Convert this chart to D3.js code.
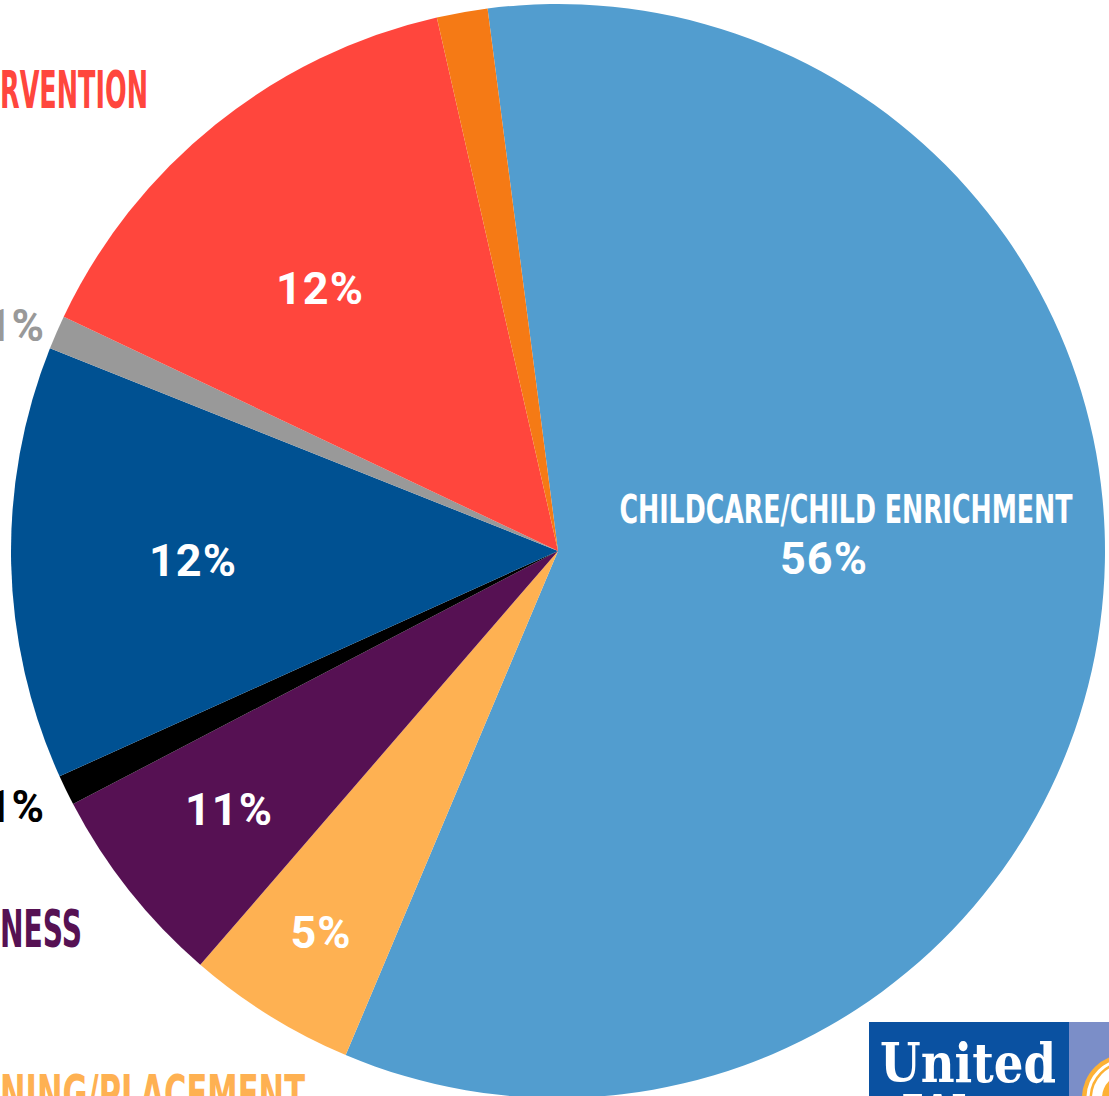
<!DOCTYPE html>
<html>
<head>
<meta charset="utf-8">
<script src="https://cdn.jsdelivr.net/npm/d3@7"></script>
<style>
  html, body { margin: 0; padding: 0; background: #fff; overflow: hidden; }
</style>
</head>
<body>
<script>
// slice shares (clockwise from the childcare slice)
var categories = ['Childcare/Child Enrichment', 'Training/Placement', 'Readiness', 'Other A',
  'Blue Slice', 'Other B', 'Intervention', 'Orange Slice'];
var values = [58.4, 5.0, 6.0, 0.9, 12.8, 1.0, 14.4, 1.5];
var pctLabels = ['56%', '5%', '11%', '', '12%', '', '12%', ''];
var colors = ['#529dcf', '#feb152', '#561153', '#000000', '#005192', '#999999', '#ff463d', '#f57a15'];

// label fragments that show at the picture edge
var outerLabels = [
  {text: 'RVENTION', color: '#ff463d', x: 0, y: 108, w: 148, cond: true, size: 51},
  {text: '1%', color: '#999999', x: 44, y: 341, size: 44, end: true},
  {text: '1%', color: '#000000', x: 44, y: 822, size: 44, end: true},
  {text: 'NESS', color: '#561153', x: 0, y: 947, w: 82, cond: true, size: 51},
  {text: 'NING/PLACEMENT', color: '#feb152', x: 0, y: 1112, w: 305, cond: true, size: 51}
];

var W = 1109, H = 1096;
var CX = 558, CY = 551, R = 547;
var START = -7.4 * Math.PI / 180;

var svg = d3.select('body').append('svg')
  .attr('width', W)
  .attr('height', H);

var pie = d3.pie()
  .sort(null)
  .value(function (d) { return d; })
  .startAngle(START)
  .endAngle(START + 2 * Math.PI);

var arc = d3.arc().innerRadius(0).outerRadius(R);

var g = svg.append('g').attr('transform', 'translate(' + CX + ',' + CY + ')');

var arcs = pie(values);

g.selectAll('path')
  .data(arcs)
  .enter().append('path')
    .attr('d', arc)
    .style('fill', function (d, i) { return colors[i]; });

// label spots inside slices (offsets from center)
var labelPos = [
  {x: 266, y: 23},   // 56%
  {x: -237, y: 397}, // 5%
  {x: -329, y: 274},
  null,
  {x: -365, y: 25},
  null,
  {x: -238, y: -247},
  null
];

g.selectAll('text.pct')
  .data(arcs)
  .enter().append('text')
    .attr('class', 'pct')
    .attr('x', function (d, i) { return labelPos[i] ? labelPos[i].x : 0; })
    .attr('y', function (d, i) { return labelPos[i] ? labelPos[i].y : 0; })
    .attr('text-anchor', 'middle')
    .style('font-family', 'Roboto, "Open Sans", sans-serif')
    .style('font-weight', 'bold')
    .style('font-size', '45px')
    .style('letter-spacing', '1px')
    .style('fill', '#fff')
    .text(function (d, i) { return pctLabels[i]; });

// category name in the big slice
g.append('text')
  .attr('x', 288)
  .attr('y', -28)
  .attr('text-anchor', 'middle')
  .attr('textLength', 453)
  .attr('lengthAdjust', 'spacingAndGlyphs')
  .style('font-family', '"Liberation Sans Narrow", "DejaVu Sans Condensed", sans-serif')
  .style('font-weight', 'bold')
  .style('font-size', '39px')
  .style('fill', '#fff')
  .text(categories[0].toUpperCase());

svg.selectAll('text.outer')
  .data(outerLabels)
  .enter().append('text')
    .attr('class', 'outer')
    .attr('x', function (d) { return d.x; })
    .attr('y', function (d) { return d.y; })
    .attr('text-anchor', function (d) { return d.end ? 'end' : 'start'; })
    .attr('textLength', function (d) { return d.w || null; })
    .attr('lengthAdjust', 'spacingAndGlyphs')
    .style('font-family', function (d) {
      return d.cond ? '"Liberation Sans Narrow", "DejaVu Sans Condensed", sans-serif'
                    : 'Roboto, "Open Sans", sans-serif';
    })
    .style('font-weight', 'bold')
    .style('font-size', function (d) { return d.size + 'px'; })
    .style('fill', function (d) { return d.color; })
    .text(function (d) { return d.text; });

// logo corner
var logo = svg.append('g');
logo.append('rect')
  .attr('x', 869).attr('y', 1022).attr('width', 200).attr('height', 80)
  .style('fill', '#0a51a1');
logo.append('rect')
  .attr('x', 1069).attr('y', 1022).attr('width', 45).attr('height', 80)
  .style('fill', '#7b8ec8');
[44, 34, 24].forEach(function (r, i) {
  logo.append('circle')
    .attr('cx', 1126).attr('cy', 1098).attr('r', r)
    .style('fill', i % 2 === 0 ? '#fdb135' : '#fff');
});
logo.append('circle')
  .attr('cx', 1126).attr('cy', 1098).attr('r', 38)
  .style('fill', 'none').style('stroke', '#fff').style('stroke-width', 3);
logo.append('text')
  .attr('x', 880).attr('y', 1082)
  .attr('textLength', 176)
  .attr('lengthAdjust', 'spacingAndGlyphs')
  .style('font-family', '"DejaVu Serif", serif')
  .style('font-weight', 'bold')
  .style('font-size', '54px')
  .style('fill', '#fff')
  .text('United');
logo.append('text')
  .attr('x', 965).attr('y', 1134)
  .attr('text-anchor', 'middle')
  .style('font-family', '"DejaVu Serif", serif')
  .style('font-weight', 'bold')
  .style('font-size', '54px')
  .style('fill', '#fff')
  .text('Way');
</script>
</body>
</html>
